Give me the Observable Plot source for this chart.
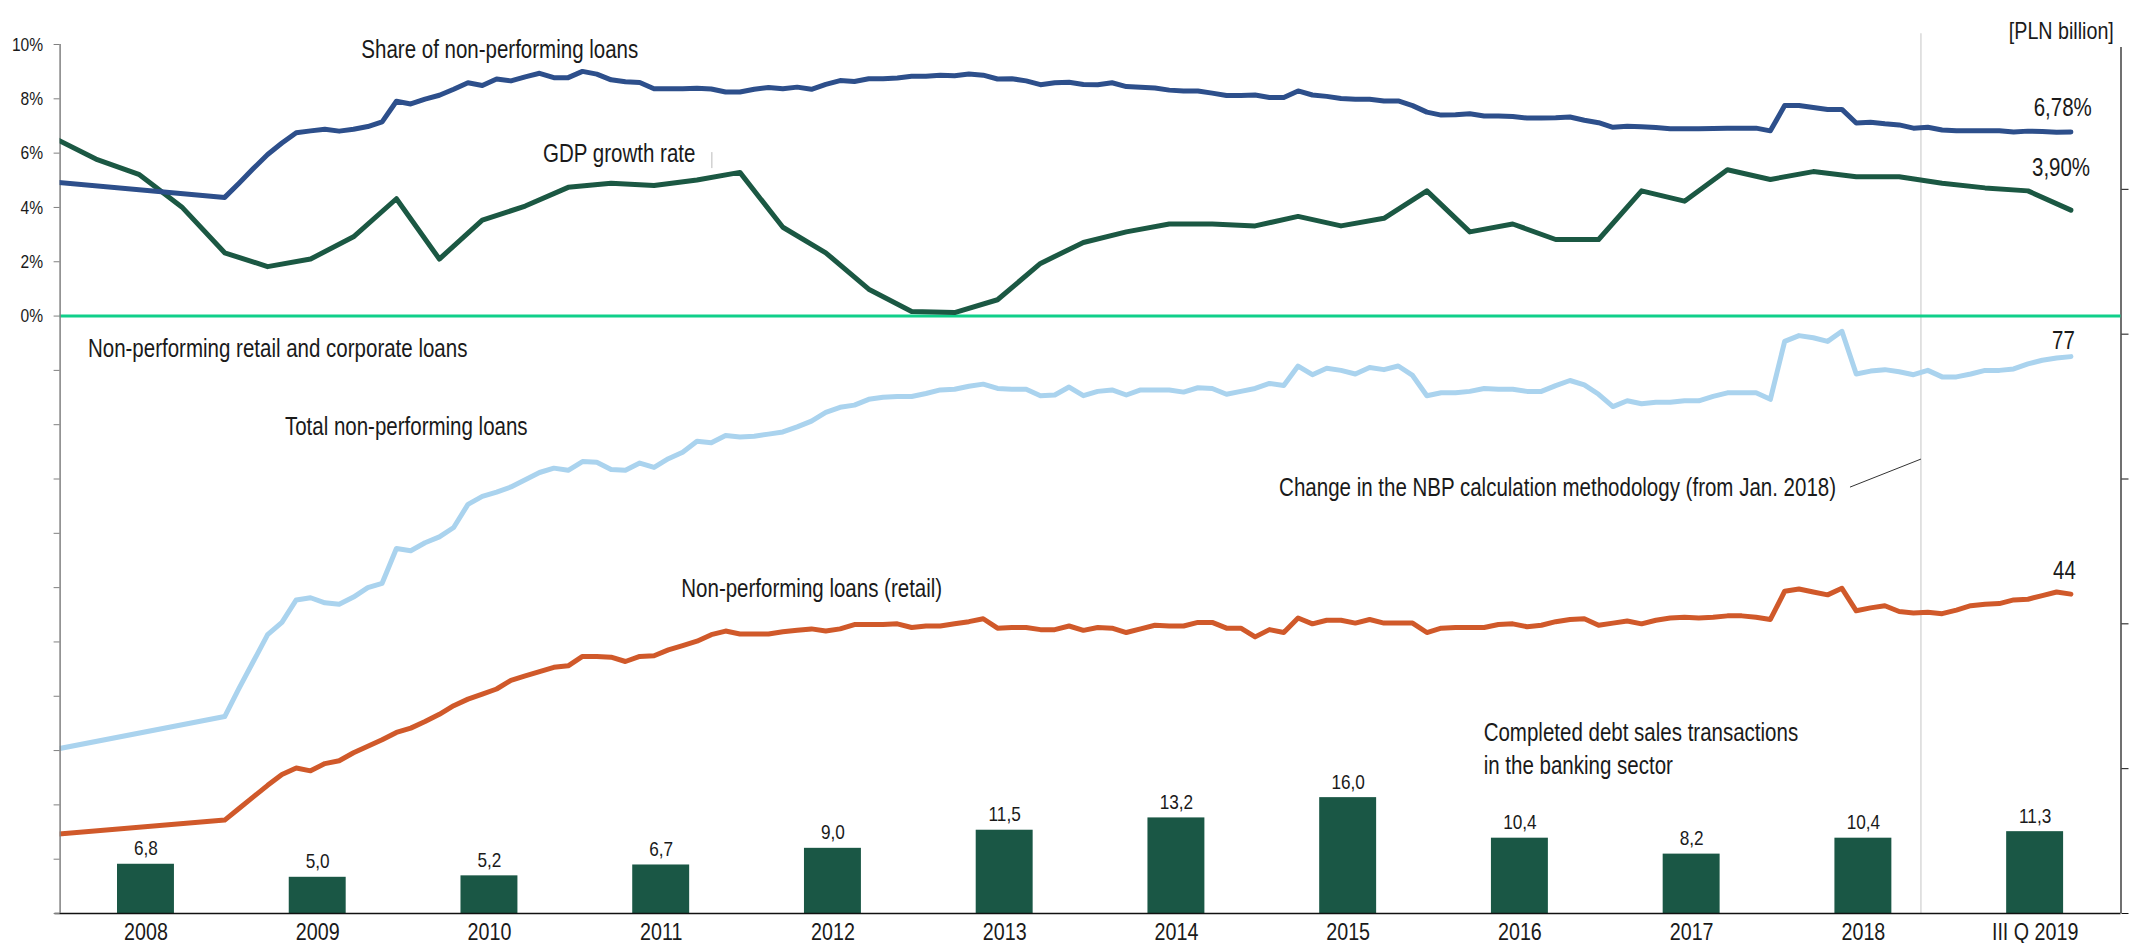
<!DOCTYPE html>
<html><head><meta charset="utf-8">
<script src="https://cdn.jsdelivr.net/npm/d3@7"></script>
<script src="https://cdn.jsdelivr.net/npm/@observablehq/plot@0.6"></script>
<style>
html,body{margin:0;padding:0;background:#fff;}
#wrap{position:relative;width:2136px;height:943px;}
#wrap svg{position:absolute;left:0;top:0;}
</style></head><body><div id="wrap"></div>
<script>
// ---------- DATA ----------
// Monthly observations: Dec 2007, Dec 2008, then Jan 2009 ... Sep 2019
const monthKeys = ["2007-12", "2008-12"];
for (let y = 2009; y <= 2019; y++) for (let m = 1; m <= 12; m++) { if (y === 2019 && m > 9) break; monthKeys.push(`${y}-${String(m).padStart(2, "0")}`); }

// Quarterly GDP observations (quarter-end months): Dec 2007, Mar 2008 ... Sep 2019
const quarterKeys = ["2007-12"];
for (let y = 2008; y <= 2019; y++) for (const m of [3, 6, 9, 12]) { if (y === 2019 && m > 9) break; quarterKeys.push(`${y}-${String(m).padStart(2, "0")}`); }

// Share of non-performing loans [%]
const shareNPL = [4.94, 4.37,
  4.89, 5.43, 5.95, 6.37, 6.75, 6.82, 6.88, 6.81, 6.88, 6.98, 7.15, 7.91,
  7.81, 7.99, 8.13, 8.35, 8.59, 8.49, 8.73, 8.66, 8.81, 8.94, 8.78, 8.78,
  9.01, 8.91, 8.70, 8.63, 8.60, 8.37, 8.37, 8.37, 8.39, 8.36, 8.25, 8.25,
  8.35, 8.42, 8.37, 8.43, 8.35, 8.53, 8.67, 8.64, 8.74, 8.74, 8.77, 8.83,
  8.83, 8.87, 8.85, 8.91, 8.87, 8.73, 8.74, 8.66, 8.52, 8.59, 8.61, 8.53,
  8.52, 8.59, 8.45, 8.43, 8.40, 8.32, 8.29, 8.29, 8.21, 8.12, 8.12, 8.14,
  8.05, 8.05, 8.29, 8.14, 8.09, 8.01, 7.98, 7.98, 7.92, 7.92, 7.75, 7.51,
  7.40, 7.41, 7.45, 7.37, 7.37, 7.35, 7.29, 7.29, 7.30, 7.33, 7.21, 7.12,
  6.95, 6.99, 6.97, 6.94, 6.90, 6.90, 6.90, 6.91, 6.92, 6.92, 6.92, 6.82,
  7.75, 7.75, 7.68, 7.61, 7.61, 7.11, 7.14, 7.08, 7.04, 6.92, 6.95, 6.85,
  6.82, 6.82, 6.82, 6.82, 6.78, 6.81, 6.80, 6.77, 6.78];

// GDP growth rate [%], quarterly
const gdpGrowth = [6.58,
  5.78, 5.22, 4.02, 2.33,
  1.82, 2.10, 2.92, 4.32,
  2.10, 3.53, 4.05, 4.74,
  4.89, 4.81, 5.01, 5.29,
  3.27, 2.33, 0.99, 0.17,
  0.13, 0.60, 1.94, 2.71,
  3.10, 3.39, 3.39, 3.32,
  3.67, 3.32, 3.60, 4.61,
  3.10, 3.39, 2.82, 2.82,
  4.61, 4.23, 5.39, 5.03,
  5.32, 5.13, 5.13, 4.89,
  4.72, 4.61, 3.90];

// Total non-performing loans [PLN billion]
const totalNPL = [22.6, 27.2,
  31.1, 34.8, 38.5, 40.2, 43.3, 43.6, 42.9, 42.7, 43.7, 45.0, 45.6, 50.4,
  50.1, 51.2, 52.0, 53.3, 56.5, 57.6, 58.2, 58.9, 59.9, 60.9, 61.5, 61.2,
  62.4, 62.3, 61.3, 61.2, 62.2, 61.6, 62.8, 63.7, 65.2, 65.0, 66.0, 65.8,
  65.9, 66.2, 66.5, 67.2, 68.0, 69.2, 69.9, 70.2, 71.0, 71.3, 71.4, 71.4,
  71.8, 72.3, 72.4, 72.8, 73.1, 72.5, 72.4, 72.4, 71.5, 71.6, 72.7, 71.5,
  72.1, 72.3, 71.6, 72.3, 72.3, 72.3, 72.0, 72.6, 72.5, 71.7, 72.1, 72.5,
  73.2, 72.9, 75.6, 74.4, 75.3, 75.0, 74.5, 75.4, 75.1, 75.6, 74.3, 71.5,
  71.9, 71.9, 72.1, 72.5, 72.4, 72.4, 72.1, 72.1, 72.9, 73.6, 73.0, 71.7,
  70.0, 70.8, 70.4, 70.6, 70.6, 70.8, 70.8, 71.4, 71.9, 71.9, 71.9, 71.0,
  79.0, 79.8, 79.5, 79.0, 80.4, 74.5, 74.9, 75.1, 74.8, 74.4, 75.0, 74.1,
  74.1, 74.5, 75.0, 75.0, 75.2, 75.9, 76.4, 76.7, 76.9];

// Non-performing loans (retail) [PLN billion]
const retailNPL = [10.9, 12.9,
  14.5, 16.1, 17.7, 19.2, 20.1, 19.7, 20.7, 21.1, 22.2, 23.1, 24.0, 25.0,
  25.6, 26.5, 27.5, 28.7, 29.6, 30.3, 31.0, 32.2, 32.8, 33.4, 34.0, 34.2,
  35.5, 35.5, 35.4, 34.8, 35.5, 35.6, 36.4, 37.0, 37.6, 38.5, 39.0, 38.6,
  38.6, 38.6, 38.9, 39.1, 39.3, 39.0, 39.3, 39.9, 39.9, 39.9, 40.0, 39.5,
  39.7, 39.7, 40.0, 40.3, 40.7, 39.4, 39.5, 39.5, 39.2, 39.2, 39.7, 39.1,
  39.5, 39.4, 38.8, 39.3, 39.8, 39.7, 39.7, 40.2, 40.2, 39.4, 39.4, 38.2,
  39.2, 38.8, 40.8, 40.0, 40.5, 40.5, 40.1, 40.6, 40.1, 40.1, 40.1, 38.8,
  39.4, 39.5, 39.5, 39.5, 39.9, 40.0, 39.6, 39.8, 40.3, 40.6, 40.7, 39.8,
  40.1, 40.4, 40.0, 40.5, 40.8, 40.9, 40.8, 40.9, 41.1, 41.1, 40.9, 40.6,
  44.5, 44.8, 44.4, 44.0, 44.9, 41.8, 42.2, 42.5, 41.7, 41.5, 41.6, 41.4,
  41.9, 42.5, 42.7, 42.8, 43.3, 43.4, 43.9, 44.4, 44.1];

// Completed debt sales transactions in the banking sector [PLN billion]
const barYears = [2008, 2009, 2010, 2011, 2012, 2013, 2014, 2015, 2016, 2017, 2018, 2019];
const debtSales = [6.8, 5.0, 5.2, 6.7, 9.0, 11.5, 13.2, 16.0, 10.4, 8.2, 10.4, 11.3];
const xLabels = ["2008", "2009", "2010", "2011", "2012", "2013", "2014", "2015", "2016", "2017", "2018", "III Q 2019"];

const pctTicks = [-22, -20, -18, -16, -14, -12, -10, -8, -6, -4, -2, 0, 2, 4, 6, 8, 10];
const pctLabelTicks = [0, 2, 4, 6, 8, 10];
const plnTicks = [0, 20, 40, 60, 80, 100];

// ---------- BUILD ----------
const toT = k => { const [y, m] = k.split("-").map(Number); return y + (m - 0.5) / 12; };
const shareData = monthKeys.map((k, i) => ({t: toT(k), v: shareNPL[i]}));
const totalData = monthKeys.map((k, i) => ({t: toT(k), v: totalNPL[i]}));
const retailData = monthKeys.map((k, i) => ({t: toT(k), v: retailNPL[i]}));
const gdpData = quarterKeys.map((k, i) => ({t: toT(k), v: gdpGrowth[i]}));
const bars = barYears.map((y, i) => ({yr: y, v: debtSales[i], label: xLabels[i]}));

const FONT = '"Liberation Sans", Arial, sans-serif';
const INK = "#1a1a1a";
const common = {
  width: 2136, height: 943,
  marginLeft: 59.6, marginRight: 15.5, marginTop: 44, marginBottom: 30,
  x: {domain: [2008, 2020], axis: null},
  style: {fontFamily: FONT, fontSize: "19px", background: "transparent", overflow: "visible"}
};
const note = (label, x, y, o = {}) => Plot.text([{x, y, label}], {x: "x", y: "y", text: "label", textAnchor: "start", lineAnchor: "bottom", fontSize: 25, fill: INK, fontFamily: FONT, ...o});

// Lower layer: PLN billion scale (right axis), bars, NPL amounts
const plnPlot = Plot.plot({
  ...common,
  y: {domain: [0, 120], axis: null},
  marks: [
    Plot.ruleX([2018.835], {y1: 0, y2: 121.5, stroke: "#d9d9d9", strokeWidth: 1.5}),
    Plot.rectY(bars, {x: "yr", interval: 1, y: "v", insetLeft: 57.4, insetRight: 57.4, fill: "#1a5745"}),
    Plot.text(bars, {x: d => d.yr + 0.5, y: "v", text: d => d.v.toFixed(1).replace(".", ","), dy: -9, lineAnchor: "bottom", fontSize: 21, fill: INK}),
    Plot.line(totalData, {x: "t", y: "v", stroke: "#aad3ee", strokeWidth: 5, clip: true}),
    Plot.line(retailData, {x: "t", y: "v", stroke: "#d0592a", strokeWidth: 5, clip: true}),
    Plot.ruleY([0], {x1: 2007.97, x2: 2020, stroke: "#111", strokeWidth: 1.5}),
    Plot.ruleX([2020], {y1: 0, y2: 119.6, stroke: "#111", strokeWidth: 1.2}),
    Plot.axisY(plnTicks, {anchor: "right", tickSize: 7, tickFormat: () => "", stroke: "#111", label: null}),
    Plot.axisX(barYears.map(y => y + 0.5), {anchor: "bottom", tickSize: 0, tickPadding: 9, fontSize: 24, color: INK, label: null,
      tickFormat: d => xLabels[barYears.indexOf(Math.round(d - 0.5))]}),
    note("Non-performing retail and corporate loans", 2008.162, 76.78),
    note("Total non-performing loans", 2009.309, 66.01),
    note("Non-performing loans (retail)", 2011.617, 43.72),
    note("Change in the NBP calculation methodology (from Jan. 2018)", 2015.098, 57.72),
    Plot.link([{x1: 2018.422, y1: 58.88, x2: 2018.835, y2: 62.75}], {x1: "x1", y1: "y1", x2: "x2", y2: "y2", stroke: "#333", strokeWidth: 1}),
    note("Completed debt sales transactions\nin the banking sector", 2016.289, 19.29, {lineHeight: 1.33}),
    note("77", 2019.665, 77.96, {textAnchor: "middle"}),
    note("44", 2019.671, 46.26, {textAnchor: "middle"}),
    note("[PLN billion]", 2019.958, 120.8, {textAnchor: "end", fontSize: 24})
  ]
});

// Upper layer: percent scale (left axis)
const pctPlot = Plot.plot({
  ...common,
  y: {domain: [-22, 10], axis: null},
  marks: [
    Plot.ruleY([0], {stroke: "#10cf8a", strokeWidth: 3}),
    Plot.ruleX([2008], {y1: -22, y2: 10, stroke: "#808080", strokeWidth: 1.5}),
    Plot.axisY(pctTicks, {anchor: "left", tickSize: 6, tickFormat: () => "", stroke: "#808080", label: null}),
    Plot.axisY(pctLabelTicks, {anchor: "left", tickSize: 0, tickPadding: 17, tickFormat: d => d + "%", fontSize: 19, color: INK, label: null}),
    Plot.line(gdpData, {x: "t", y: "v", stroke: "#1b5843", strokeWidth: 5, clip: true}),
    Plot.line(shareData, {x: "t", y: "v", stroke: "#2d4f8b", strokeWidth: 5, clip: true}),
    Plot.ruleX([2011.795], {y1: 5.43, y2: 6.02, stroke: "#bbbbbb", strokeWidth: 1}),
    note("Share of non-performing loans", 2009.754, 9.52),
    note("GDP growth rate", 2010.8125, 5.656),
    note("6,78%", 2019.83, 7.35, {textAnchor: "end"}),
    note("3,90%", 2019.82, 5.14, {textAnchor: "end"})
  ]
});

const wrap = document.getElementById("wrap");
wrap.appendChild(plnPlot);
wrap.appendChild(pctPlot);

// Narrow (condensed) type, as in the original: compress each text run horizontally
const NARROW = 0.82;
wrap.querySelectorAll("text").forEach(t => {
  const spans = t.querySelectorAll("tspan");
  const runs = spans.length ? Array.from(spans) : [t];
  runs.forEach(r => {
    const len = r.getComputedTextLength();
    if (len > 0) { r.setAttribute("textLength", (len * NARROW).toFixed(1)); r.setAttribute("lengthAdjust", "spacingAndGlyphs"); }
  });
});
</script></body></html>
